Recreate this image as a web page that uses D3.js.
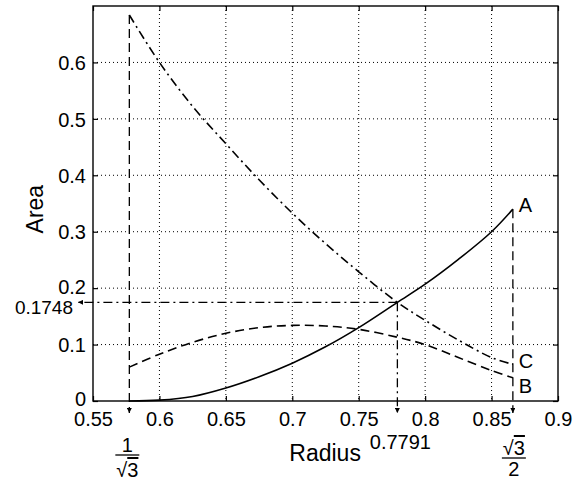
<!DOCTYPE html>
<html>
<head>
<meta charset="utf-8">
<script src="https://cdn.jsdelivr.net/npm/d3@7"></script>
<style>
  body { margin: 0; background: #fff; }
  text { font-family: "Liberation Sans", Arial, Helvetica, sans-serif; fill: #000; }
</style>
</head>
<body>
<div id="chart"></div>
<script>
// values
var radius = [0.57735, 0.6, 0.625, 0.65, 0.675, 0.7, 0.725, 0.75, 0.7791, 0.8, 0.825, 0.85, 0.86603];
var areaA  = [0, 0.0015, 0.008, 0.023, 0.043, 0.067, 0.096, 0.130, 0.1748, 0.207, 0.251, 0.300, 0.340];
var areaB  = [0.060, 0.083, 0.104, 0.120, 0.130, 0.134, 0.133, 0.127, 0.113, 0.100, 0.077, 0.054, 0.041];
var areaC  = [0.684, 0.600, 0.522, 0.456, 0.392, 0.333, 0.279, 0.229, 0.1748, 0.143, 0.108, 0.077, 0.065];

var xTicks = [0.55, 0.6, 0.65, 0.7, 0.75, 0.8, 0.85, 0.9];
var yTicks = [0, 0.1, 0.2, 0.3, 0.4, 0.5, 0.6];

// marked radii (1/sqrt3, crossing, sqrt3/2) and the top of each drop line
var markR   = [0.57735, 0.7791, 0.86603];
var markTop = [0.684, 0.1748, 0.340];
var crossArea = 0.1748;

var margin = {top: 6, right: 23, bottom: 79, left: 93},
    width = 581 - margin.left - margin.right,
    height = 480 - margin.top - margin.bottom;

var x = d3.scaleLinear().domain([0.55, 0.9]).range([0, width]);
var y = d3.scaleLinear().domain([0, 0.7]).range([height, 0]);

var svg = d3.select("#chart").append("svg")
    .attr("width", 581)
    .attr("height", 480)
  .append("g")
    .attr("transform", "translate(" + margin.left + "," + margin.top + ")");

// arrow heads
var defs = svg.append("defs");
defs.append("marker")
    .attr("id", "arrow")
    .attr("viewBox", "0 0 10 10")
    .attr("refX", 10).attr("refY", 5)
    .attr("markerWidth", 6.5).attr("markerHeight", 5)
    .attr("markerUnits", "userSpaceOnUse")
    .attr("orient", "auto")
  .append("path")
    .attr("d", "M0,0 L10,5 L0,10 Z")
    .attr("fill", "#000");

// grid
svg.selectAll(".gx")
    .data(xTicks.slice(1, -1))
  .enter().append("line")
    .attr("x1", d => x(d)).attr("x2", d => x(d))
    .attr("y1", 0).attr("y2", height)
    .attr("stroke", "#000").attr("stroke-width", 1)
    .attr("stroke-dasharray", "1,3");
svg.selectAll(".gy")
    .data(yTicks.slice(1))
  .enter().append("line")
    .attr("y1", d => y(d)).attr("y2", d => y(d))
    .attr("x1", 0).attr("x2", width)
    .attr("stroke", "#000").attr("stroke-width", 1)
    .attr("stroke-dasharray", "1,3");

// axes, ticks inside on all sides
var fs = "20px";
var xb = svg.append("g").attr("transform", "translate(0," + height + ")")
    .call(d3.axisBottom(x).tickValues(xTicks).tickSizeInner(-5).tickSizeOuter(0).tickPadding(11)
      .tickFormat(d3.format("")));
var xt = svg.append("g")
    .call(d3.axisTop(x).tickValues(xTicks).tickSizeInner(-5).tickSizeOuter(0).tickFormat(""));
var yl = svg.append("g")
    .call(d3.axisLeft(y).tickValues(yTicks).tickSizeInner(-5).tickSizeOuter(0).tickPadding(7)
      .tickFormat(d3.format("")));
var yr = svg.append("g").attr("transform", "translate(" + width + ",0)")
    .call(d3.axisRight(y).tickValues(yTicks).tickSizeInner(-5).tickSizeOuter(0).tickFormat(""));

[xb, xt, yl, yr].forEach(function(g) {
  g.select(".domain").remove();
  g.selectAll("line").attr("stroke-width", 1.2);
  g.selectAll("text").style("font-size", fs).attr("fill", "#000");
});
xb.selectAll("text").attr("dy", "0.71em");
yl.selectAll("text").attr("dy", "0.36em");
// first y label sits a bit lower, like the reference
yl.selectAll("text").filter(d => d === 0).attr("dy", "0.2em");
yl.selectAll("text").filter(d => d === 0.2).attr("dy", "0.28em");

svg.append("rect")
    .attr("width", width).attr("height", height)
    .attr("fill", "none").attr("stroke", "#000").attr("stroke-width", 1.4);

// curves
var line = d3.line()
    .x(d => x(d[0]))
    .y(d => y(d[1]))
    .curve(d3.curveCatmullRom.alpha(0.5));

function series(vals) { return radius.map((r, i) => [r, vals[i]]); }

svg.append("path").datum(series(areaA))
    .attr("d", line).attr("fill", "none").attr("stroke", "#000").attr("stroke-width", 1.6);
svg.append("path").datum(series(areaB))
    .attr("d", line).attr("fill", "none").attr("stroke", "#000").attr("stroke-width", 1.6)
    .attr("stroke-dasharray", "9,5");
svg.append("path").datum(series(areaC))
    .attr("d", line).attr("fill", "none").attr("stroke", "#000").attr("stroke-width", 1.6)
    .attr("stroke-dasharray", "9,4,2,4");

// drop lines to the x axis
var dash = ["9,5", "9,4,2,4", "9,5"];
svg.selectAll(".drop")
    .data(markR)
  .enter().append("line")
    .attr("x1", d => x(d)).attr("x2", d => x(d))
    .attr("y1", (d, i) => y(markTop[i]))
    .attr("y2", height + 12)
    .attr("stroke", "#000").attr("stroke-width", 1.3)
    .attr("stroke-dasharray", (d, i) => dash[i])
    .attr("marker-end", "url(#arrow)");

// horizontal line to the y axis
svg.append("line")
    .attr("x1", x(markR[1])).attr("x2", -15)
    .attr("y1", y(crossArea)).attr("y2", y(crossArea))
    .attr("stroke", "#000").attr("stroke-width", 1.3)
    .attr("stroke-dasharray", "9,4,2,4")
    .attr("marker-end", "url(#arrow)");

svg.append("text")
    .attr("x", -20).attr("y", y(crossArea) + 5)
    .attr("dy", "0.36em")
    .attr("text-anchor", "end")
    .style("font-size", "19px")
    .text(d3.format(".4f")(crossArea));

svg.append("text")
    .attr("x", x(markR[1]) + 3).attr("y", height + 48)
    .attr("text-anchor", "middle")
    .style("font-size", fs)
    .text(d3.format(".4f")(markR[1]));

// fractions under the axis
function fraction(cx, top, bottom, yTop, yBar, yBot) {
  var g = svg.append("g");
  g.append("text").attr("x", cx).attr("y", yTop).attr("text-anchor", "middle")
    .style("font-size", fs).html(top);
  g.append("line").attr("x1", cx - 12).attr("x2", cx + 12)
    .attr("y1", yBar).attr("y2", yBar).attr("stroke", "#000").attr("stroke-width", 1.3);
  g.append("text").attr("x", cx).attr("y", yBot).attr("text-anchor", "middle")
    .style("font-size", fs).html(bottom);
}
var rad = '√<tspan style="text-decoration: overline">3</tspan>';
fraction(x(markR[0]) - 2, "1", rad, height + 51, height + 54, height + 76);
fraction(x(markR[2]) + 1, rad, "2", height + 54, height + 57, height + 75);

// curve labels
var ends = [["A", areaA], ["C", areaC], ["B", areaB]];
var off = [3, 4, 15];
svg.selectAll(".lab")
    .data(ends)
  .enter().append("text")
    .attr("x", x(radius[radius.length - 1]) + 6)
    .attr("y", (d, i) => y(d[1][d[1].length - 1]) + off[i])
    .style("font-size", fs)
    .text(d => d[0]);

// axis titles
svg.append("text")
    .attr("x", x(0.7) - 3).attr("y", height + 60)
    .style("font-size", "23px")
    .text("Radius");

svg.append("text")
    .attr("transform", "translate(" + (-50) + "," + (y(0.34)) + ") rotate(-90)")
    .attr("text-anchor", "middle")
    .style("font-size", "23px")
    .text("Area");
</script>
</body>
</html>
